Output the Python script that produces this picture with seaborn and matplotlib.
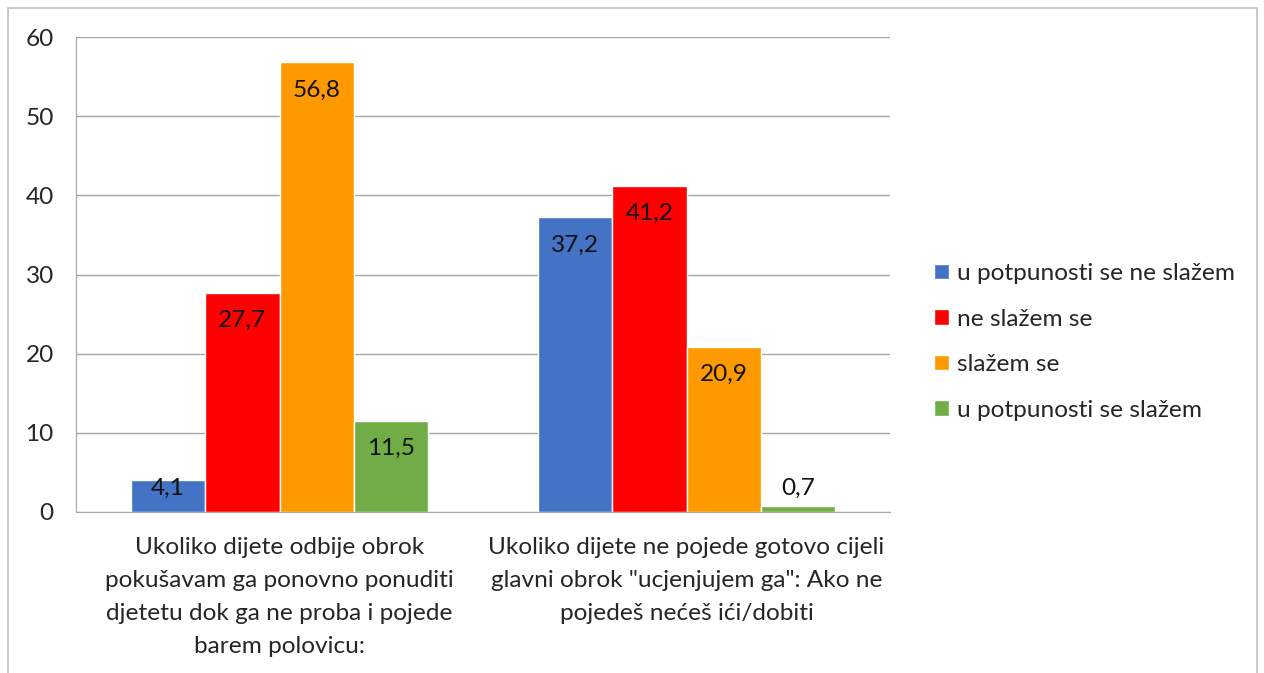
import numpy as np
import pandas as pd
import seaborn as sns
import matplotlib
matplotlib.use('Agg')
import matplotlib.pyplot as plt
from matplotlib.patches import Rectangle

# podaci procitani s grafa
pitanja = [
    'Ukoliko dijete odbije obrok\npokušavam ga ponovno ponuditi\ndjetetu dok ga ne proba i pojede\nbarem polovicu:',
    'Ukoliko dijete ne pojede gotovo cijeli\nglavni obrok "ucjenjujem ga": Ako ne\npojedeš nećeš ići/dobiti',
]
odgovori = ['u potpunosti se ne slažem', 'ne slažem se', 'slažem se', 'u potpunosti se slažem']
vrijednosti_p1 = [4.1, 27.7, 56.8, 11.5]
vrijednosti_p2 = [37.2, 41.2, 20.9, 0.7]
boje = ['#4472C4', '#FF0000', '#FF9900', '#70AD47']
y_ticks = [0, 10, 20, 30, 40, 50, 60]

sns.set_style('white')
plt.rcParams['font.family'] = ['Lato', 'DejaVu Sans']
fs = 17.6

rows = []
for q, vals in zip(pitanja, [vrijednosti_p1, vrijednosti_p2]):
    for o, v in zip(odgovori, vals):
        rows.append({'pitanje': q, 'odgovor': o, 'postotak': v})
df = pd.DataFrame(rows)

fig = plt.figure(figsize=(12.64, 6.73), dpi=100)
ax = fig.add_axes([76 / 1264, 1 - 512 / 673, (890 - 76) / 1264, (512 - 37) / 673])

sns.barplot(data=df, x='pitanje', y='postotak', hue='odgovor', order=pitanja,
            hue_order=odgovori, palette=boje, saturation=1, width=0.73, gap=0,
            ax=ax)

grid_col = '#A6A6A6'
ax.set_xlim(-0.5, 1.5)
ax.set_ylim(0, 60)
ax.set_yticks(y_ticks)
ax.yaxis.grid(True, color=grid_col, lw=1)
ax.set_axisbelow(True)
ax.set_xlabel('')
ax.set_ylabel('')
for s in ['top', 'right']:
    ax.spines[s].set_visible(False)
ax.spines['left'].set_color(grid_col)
ax.spines['bottom'].set_color(grid_col)
ax.tick_params(axis='y', direction='out', length=8, color=grid_col, labelsize=fs, pad=8)
ax.set_xticks([0, 1])
ax.set_xticklabels(pitanja)
ax.tick_params(axis='x', which='major', length=0, labelsize=fs, pad=18)
ax.set_xticks([-0.5, 0.5, 1.5], minor=True)
ax.tick_params(axis='x', which='minor', direction='out', length=9, color=grid_col)

# oznake vrijednosti unutar stupaca
for cont, o in zip(ax.containers, odgovori):
    for bar in cont:
        v = bar.get_height()
        y = max(v - 3.5, 3.0)
        ax.text(bar.get_x() + bar.get_width() / 2, y, f'{v:.1f}'.replace('.', ','),
                ha='center', va='center', fontsize=fs, color='#111111')

handles, labels = ax.get_legend_handles_labels()
ax.get_legend().remove()
fig.legend(handles, labels, loc='center left', bbox_to_anchor=(912 / 1264, 1 - 342 / 673),
           frameon=False, fontsize=fs, handlelength=0.6, handleheight=0.6,
           handletextpad=0.35, labelspacing=1.0)

# okvir grafa
fig.patches.append(Rectangle((8 / 1264, -0.05), (1257 - 8) / 1264, 1.05 - 8 / 673,
                             transform=fig.transFigure, fill=False, ec='#BFBFBF', lw=1.2))

# razmak redaka u oznakama kategorija (nakon crtanja da ostane)
fig.canvas.draw()
for t in ax.xaxis.get_majorticklabels():
    t.set_linespacing(1.7)

fig.savefig('out.png', dpi=100)
